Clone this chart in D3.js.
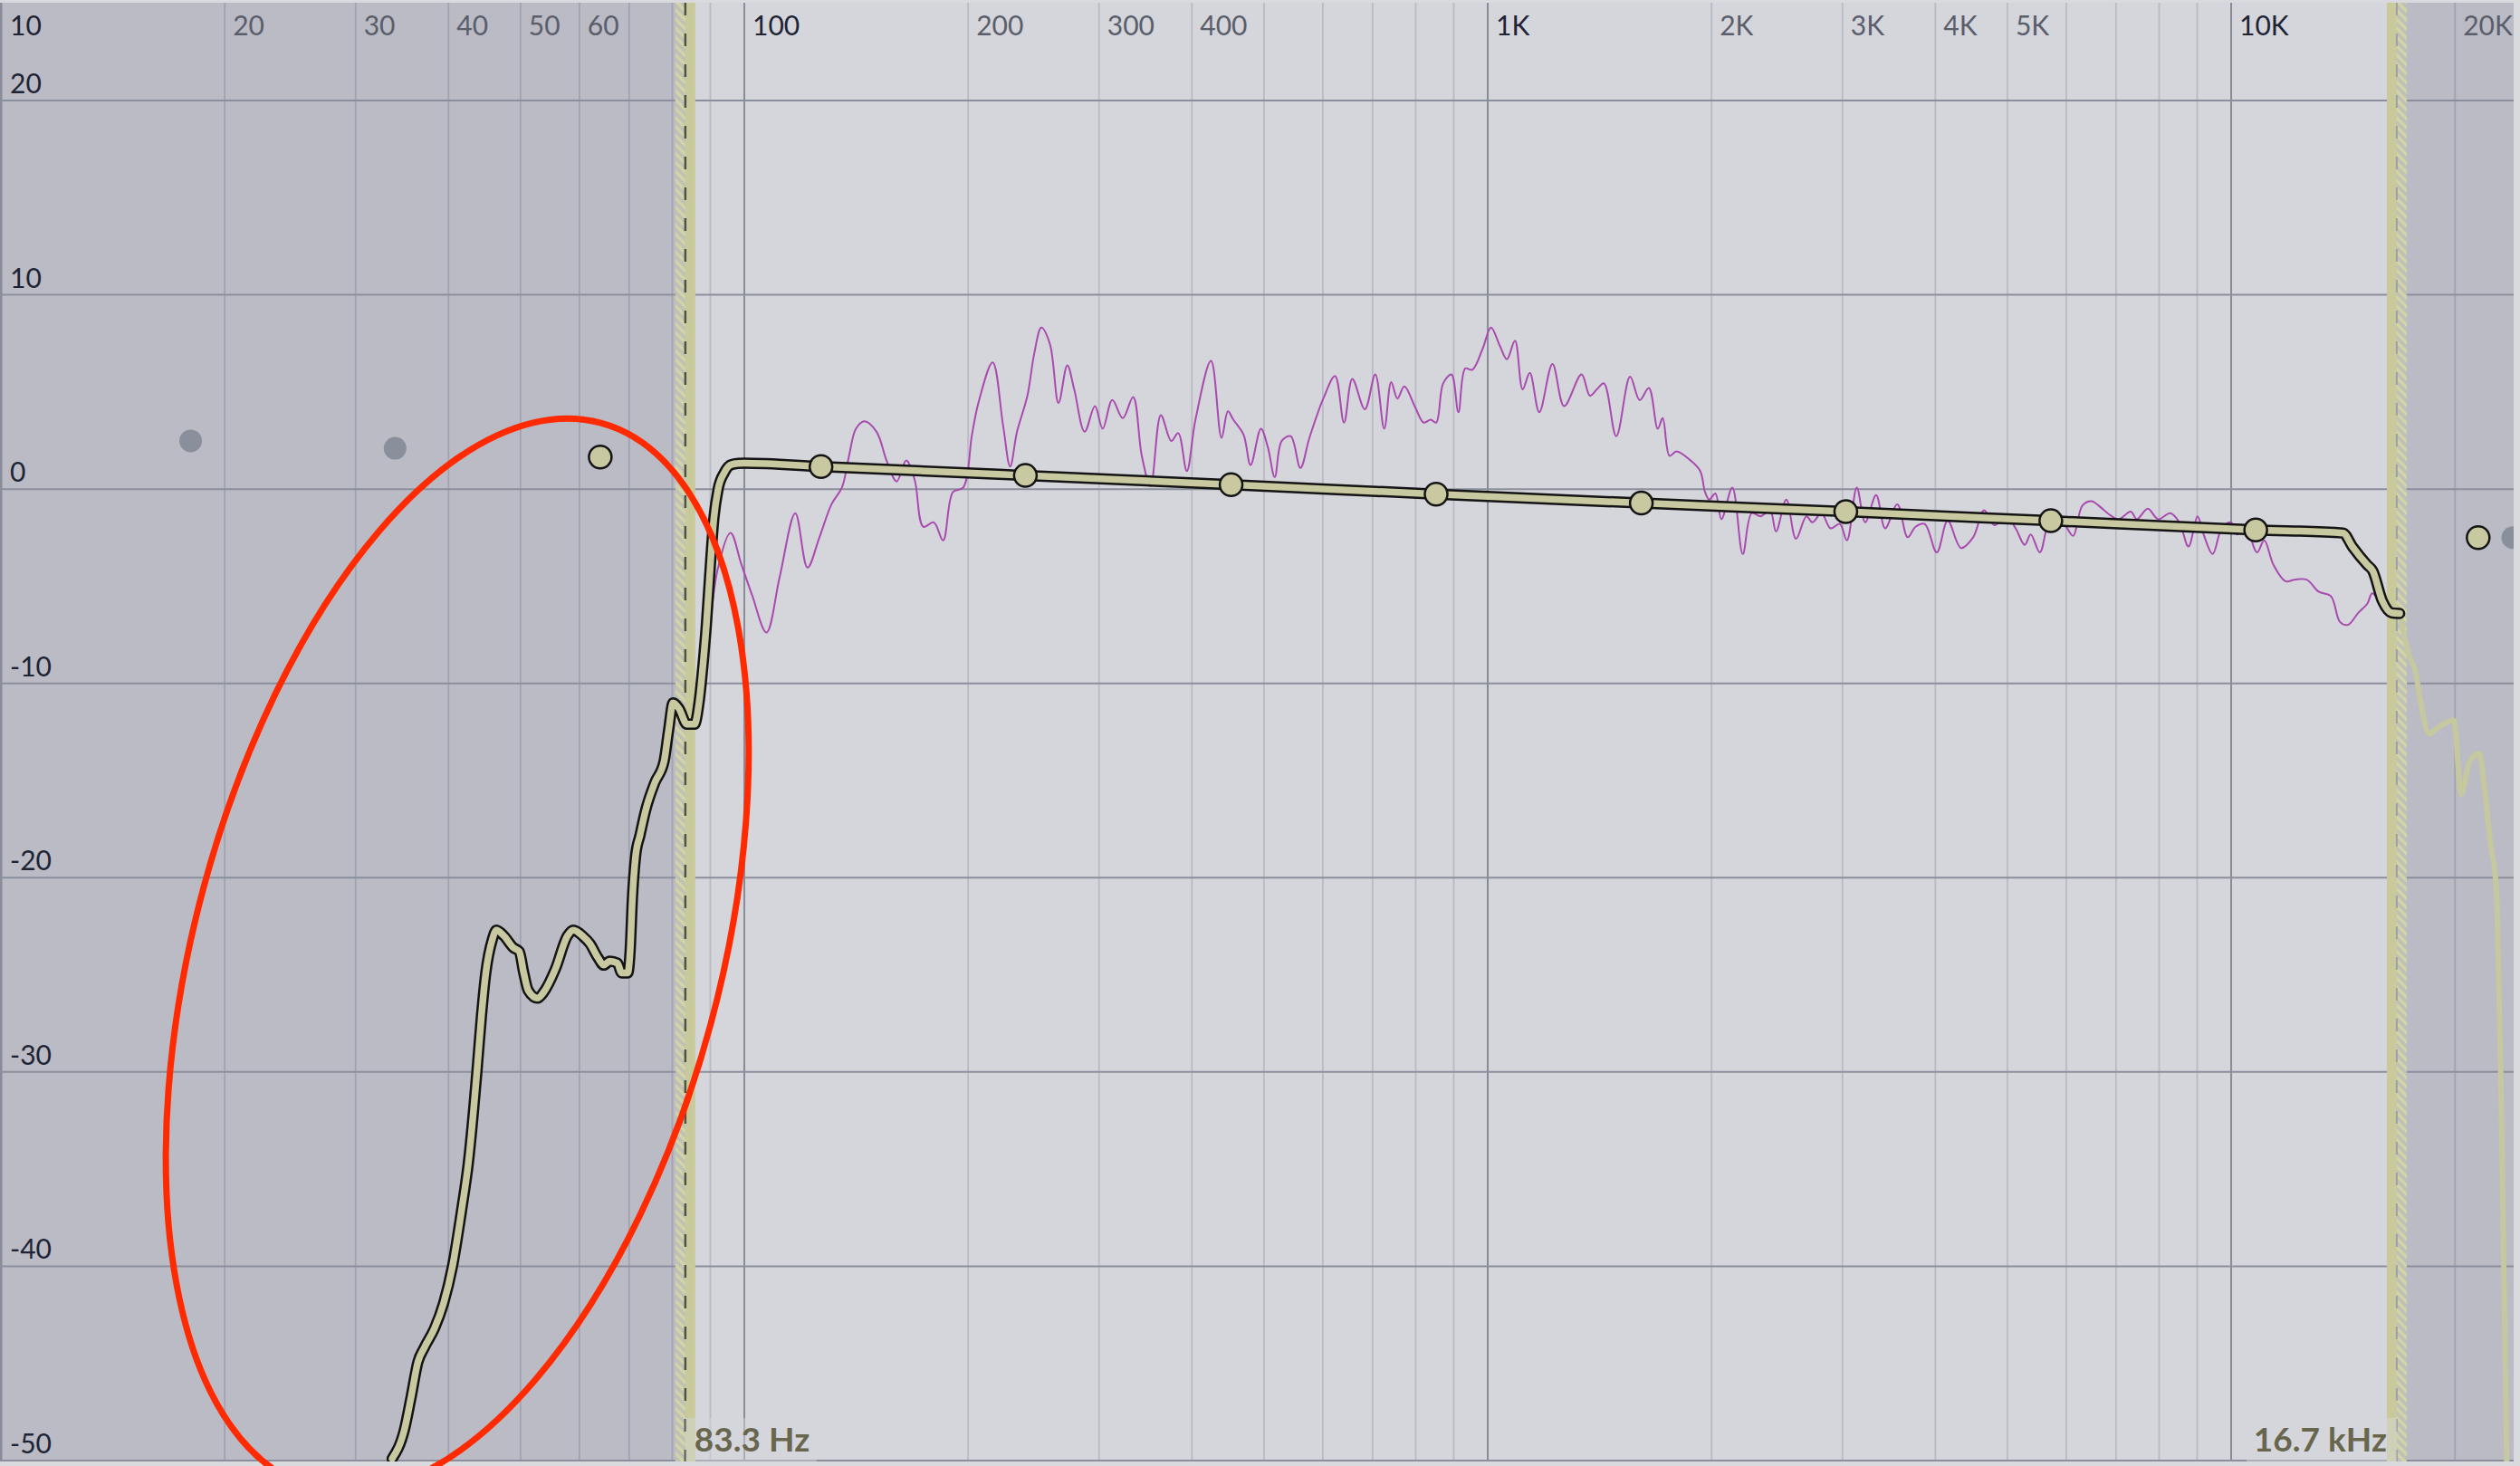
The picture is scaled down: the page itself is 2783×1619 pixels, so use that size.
<!DOCTYPE html>
<html><head><meta charset="utf-8">
<script src="https://cdn.jsdelivr.net/npm/d3@7"></script>
<style>html,body{margin:0;padding:0;background:#d9dade;overflow:hidden}svg{display:block}</style>
</head><body>
<svg id="c" width="2783" height="1619"></svg>
<script>
// ---------- data ----------
const gridFreqs = [10,20,30,40,50,60,70,80,90,100,200,300,400,500,600,700,800,900,
  1000,2000,3000,4000,5000,6000,7000,8000,9000,10000,20000];
const freqLabelValues = [10,20,30,40,50,60,100,200,300,400,1000,2000,3000,4000,5000,10000,20000];
const freqLabelTexts = ["10","20","30","40","50","60","100","200","300","400","1K","2K","3K","4K","5K","10K","20K"];
const dbTicks = [20,10,0,-10,-20,-30,-40,-50];
const dbLabelTexts = ["20","10","0","-10","-20","-30","-40","-50"];

const lowCut = 83.3, highCut = 16700;
const lowCutLabel = "83.3 Hz", highCutLabel = "16.7 kHz";

// EQ (target) curve, outlined part
const eqFreqs = [33.6,34.9,35.6,36.4,37.1,38.3,39.4,40.5,41.7,42.5,
  43.7,44.3,44.9,45.8,46.4,47.5,48.9,49.8,50.5,51.2,
  52.7,53.7,55.7,57.8,58.9,60.6,62.0,63.5,64.7,65.9,
  67.5,68.4,69.7,70.2,70.7,71.4,72.4,73.7,75.8,78.0,
  79.1,80.2,81.7,83.7,85.7,86.9,88.1,88.9,89.8,91.0,
  92.2,94.0,95.9,98.1,100,126.8,238.8,451.6,852,1609,
  3031,5720,10790,14140,14550,15240,15500,15970,16430,16850];
const eqGains = [-49.9,-48.4,-46.8,-44.9,-44.2,-43.2,-41.9,-40.0,-37.0,-34.8,
  -29.9,-27.1,-24.9,-23.2,-22.7,-23.0,-23.6,-23.8,-24.9,-25.8,
  -26.2,-25.9,-24.7,-23.0,-22.7,-23.0,-23.4,-24.1,-24.5,-24.3,
  -24.4,-24.9,-24.9,-23.8,-21.1,-18.9,-17.8,-16.5,-15.1,-14.0,
  -12.4,-11.0,-11.3,-12.1,-12.1,-11.0,-8.8,-7.0,-4.5,-1.5,
  0.0,0.85,1.25,1.32,1.33,1.16,0.70,0.23,-0.26,-0.72,
  -1.16,-1.63,-2.10,-2.26,-2.95,-3.9,-4.2,-5.75,-6.37,-6.4];

// faded continuation above the high cut
const tailFreqs = [16850,17330,17720,17970,18480,18850,19930,20390,20910,21560,21890,22300,22730,22830,23050,23260,23480];
const tailGains = [-6.4,-8.5,-9.5,-10.9,-12.6,-12.35,-11.9,-15.7,-14.05,-13.6,-15.2,-18.1,-20.5,-22.9,-30.2,-39.8,-50.3];

// measured response (magenta)
const measFreqs = [86.9,88.1,89.0,92.0,
  95.8,99.1,102.4,107.1,111.6,117.1,121.6,126.2,131.0,135.3,
  138.3,141.3,145.1,150.6,155.6,160.3,165.1,169.5,174.1,179.8,
  185.1,190.8,197.0,202.4,206.7,215.8,222.9,227.8,232.7,240.3,
  245.5,250.9,257.7,264.6,271.9,277.8,286.9,296.2,303.4,312.6,
  322.9,333.4,342.5,351.8,363.3,375.2,383.4,393.7,404.4,424.4,
  438.4,447.2,454.8,469.4,479.7,495.3,505.9,517.0,528.3,543.2,
  559.7,575.6,600.9,623.2,640.7,657.4,683.4,705.8,725.7,741.5,
  756.0,772.3,799.2,820.1,838.0,852.4,871.0,893.6,913.1,932.7,
  953.0,984.2,1010,1038,1061,1088,1114,1139,1173,1222,
  1267,1337,1372,1402,1433,1489,1554,1601,1647,1693,
  1719,1756,1794,1873,1931,1960,1986,2024,2062,2133,
  2203,2265,2330,2397,2442,2521,2598,2683,2734,2811,
  2892,2975,3042,3136,3219,3330,3424,3556,3671,3762,
  3870,4018,4156,4331,4497,4652,4803,4987,5129,5276,
  5375,5529,5687,5850,6017,6131,6307,6486,6672,6862,
  7057,7327,7466,7724,7975,8281,8516,8761,9010,9181,
  9442,9713,9989,10178,10470,10829,11078,11393,11830,12170,
  12635,13115,13618,14009,14355,14822,15243,15476,15827,16277];
const measGains = [-11.5,-10.2,-8.85,-4.19,
  -2.25,-3.88,-5.44,-7.38,-4.5,-1.24,-4.04,-2.48,-0.78,0.08,
  1.71,3.11,3.49,2.95,1.40,0.39,1.48,0.47,-1.94,-1.71,
  -2.64,-0.15,0.08,2.80,4.51,6.52,3.26,1.16,2.95,4.81,
  6.99,8.31,7.46,4.43,6.37,5.13,2.95,4.27,3.11,4.58,
  3.65,4.74,1.71,0.15,3.81,2.48,2.88,0.93,3.57,6.60,
  2.64,4.0,3.57,2.80,1.24,3.11,2.18,0.62,2.48,2.72,
  1.09,2.64,4.66,5.82,3.42,5.67,4.11,5.90,3.11,5.51,
  4.66,5.28,4.19,3.42,3.57,3.42,5.44,5.90,3.96,6.21,
  6.14,7.22,8.31,7.38,6.68,7.64,5.13,5.98,3.96,6.44,
  4.27,5.90,4.81,5.13,5.44,2.72,5.78,4.58,5.20,3.11,
  3.65,1.71,1.94,1.48,0.93,-0.15,-0.54,-0.23,-1.55,0.08,
  -3.34,-1.24,-1.40,-1.09,-2.18,-0.54,-2.56,-1.40,-1.71,-1.24,
  -2.02,-1.79,-2.64,0.08,-1.71,-0.31,-2.02,-0.78,-2.48,-1.94,
  -1.79,-3.26,-1.63,-3.03,-2.48,-1.09,-1.86,-1.40,-2.02,-2.87,
  -2.33,-3.26,-1.71,-1.40,-2.02,-2.41,-0.85,-0.62,-0.93,-1.32,
  -1.55,-1.16,-1.55,-1.01,-1.55,-1.24,-1.71,-2.95,-1.40,-2.33,
  -3.34,-2.02,-1.71,-2.33,-2.02,-3.26,-2.64,-3.88,-4.74,-4.66,
  -4.66,-5.28,-5.51,-6.84,-6.99,-6.37,-5.90,-5.36,-5.75,-6.29];

// control nodes
const nodeFreqs = [18.0,33.9,64.0,126.8,238.8,451.6,852.2,1609,3031,5720,10790,21490,23920];
const nodeGains = [2.48,2.10,1.65,1.16,0.70,0.23,-0.26,-0.72,-1.16,-1.63,-2.10,-2.50,-2.50];
const nodeActive = [false,false,true,true,true,true,true,true,true,true,true,true,false];

// red annotation ellipse (centre in data units)
const noteFreq = 41.1, noteGain = -24.0;

// ---------- drawing ----------
const W = 2783, H = 1619;
const svg = d3.select('#c');
const x = d3.scaleLog().domain([10, 24000]).range([1, 2776.2]);
const y = d3.scaleLinear().domain([-50, 20]).range([1613, 111]);
const pTop = 3, pBot = 1614, pLeft = 0, pRight = 2776;
const FONT = "Lato, 'Open Sans', sans-serif";

const defs = svg.append('defs');
defs.append('clipPath').attr('id','plot').append('rect')
  .attr('x',pLeft).attr('y',pTop).attr('width',pRight-pLeft).attr('height',pBot-pTop);
const pat = defs.append('pattern').attr('id','hatch').attr('patternUnits','userSpaceOnUse')
  .attr('width',7).attr('height',7).attr('patternTransform','rotate(-45)');
pat.append('rect').attr('width',7).attr('height',7).attr('fill','#bfc0b6');
pat.append('line').attr('x1',1.5).attr('y1',0).attr('x2',1.5).attr('y2',7)
  .attr('stroke','#d4d5a6').attr('stroke-width',3.5);

svg.append('rect').attr('width',W).attr('height',H).attr('fill','#d9dade');
const xl = x(lowCut), xh = x(highCut);
svg.append('rect').attr('x',pLeft).attr('y',pTop).attr('width',xl-pLeft).attr('height',pBot-pTop).attr('fill','#babbc5');
svg.append('rect').attr('x',xl).attr('y',pTop).attr('width',xh-xl).attr('height',pBot-pTop).attr('fill','#d5d6dc');
svg.append('rect').attr('x',xh).attr('y',pTop).attr('width',pRight-xh).attr('height',pBot-pTop).attr('fill','#babbc5');

// grid
const grid = svg.append('g');
gridFreqs.forEach(f => {
  const major = Math.abs(Math.log10(f) - Math.round(Math.log10(f))) < 1e-9;
  grid.append('line').attr('x1',x(f)).attr('x2',x(f)).attr('y1',pTop).attr('y2',pBot)
    .attr('stroke', major ? '#878b9a' : 'rgba(45,50,75,0.17)')
    .attr('stroke-width', major ? (f===10 ? 3 : 2) : 1.8);
});
dbTicks.forEach(d => {
  grid.append('line').attr('x1',pLeft).attr('x2',pRight).attr('y1',y(d)).attr('y2',y(d))
    .attr('stroke','#8b8f9d').attr('stroke-width',2);
});

// bands
svg.append('rect').attr('x',xl-11).attr('y',pTop).attr('width',11).attr('height',pBot-pTop).attr('fill','url(#hatch)');
svg.append('rect').attr('x',xl).attr('y',pTop).attr('width',11).attr('height',pBot-pTop).attr('fill','#c9ca9c');
svg.append('rect').attr('x',xh-11).attr('y',pTop).attr('width',11).attr('height',pBot-pTop).attr('fill','#c9ca9c');
svg.append('rect').attr('x',xh).attr('y',pTop).attr('width',11).attr('height',pBot-pTop).attr('fill','url(#hatch)');
svg.append('line').attr('x1',xl).attr('x2',xl).attr('y1',pTop).attr('y2',pBot)
  .attr('stroke','#4f5245').attr('stroke-width',2.5).attr('stroke-dasharray','14,20');
svg.append('line').attr('x1',xh).attr('x2',xh).attr('y1',pTop).attr('y2',pBot)
  .attr('stroke','#9ea0a6').attr('stroke-width',2).attr('stroke-dasharray','14,20');

// axis labels
const lab = svg.append('g').attr('font-family',FONT).attr('font-size',30);
freqLabelValues.forEach((f,i) => {
  const major = Math.abs(Math.log10(f) - Math.round(Math.log10(f))) < 1e-9;
  lab.append('text').attr('x', f===10 ? 11 : x(f)+9).attr('y',39)
    .attr('fill', major ? '#1e2434' : '#5a5e6b').text(freqLabelTexts[i]);
});
dbTicks.forEach((d,i) => {
  lab.append('text').attr('x',11).attr('y',y(d)-8).attr('fill','#1e2434').text(dbLabelTexts[i]);
});

// curves
const plot = svg.append('g').attr('clip-path','url(#plot)');
const line = d3.line().x(d => x(d[0])).y(d => y(d[1])).curve(d3.curveCatmullRom.alpha(0.5));
const eqLine = d3.line().x(d => x(d[0])).y(d => y(d[1])).curve(d3.curveMonotoneX);
plot.append('path').datum(d3.zip(measFreqs, measGains)).attr('d',line)
  .attr('fill','none').attr('stroke','#a84aae').attr('stroke-width',2).attr('stroke-linejoin','round');
plot.append('path').datum(d3.zip(tailFreqs, tailGains)).attr('d',eqLine)
  .attr('fill','none').attr('stroke','#c6c8a0').attr('stroke-width',6).attr('stroke-linejoin','round').attr('stroke-linecap','round');
const eqData = d3.zip(eqFreqs, eqGains);
plot.append('path').datum(eqData).attr('d',eqLine)
  .attr('fill','none').attr('stroke','#141414').attr('stroke-width',12.5).attr('stroke-linejoin','round').attr('stroke-linecap','round');
plot.append('path').datum(eqData).attr('d',eqLine)
  .attr('fill','none').attr('stroke','#c8c9a0').attr('stroke-width',7.5).attr('stroke-linejoin','round').attr('stroke-linecap','round');

// nodes
nodeFreqs.forEach((f,i) => {
  const c = plot.append('circle').attr('cx',x(f)).attr('cy',y(nodeGains[i])).attr('r',12.5);
  if (nodeActive[i]) c.attr('fill','#c8c9a0').attr('stroke','#141414').attr('stroke-width',2.5);
  else c.attr('fill','#8a8f9c');
});

// cutoff labels
svg.append('rect').attr('x',xl).attr('y',1566).attr('width',145).attr('height',pBot-1566)
  .attr('fill','#d5d6dc').attr('opacity',0.45);
svg.append('rect').attr('x',xh-166).attr('y',1566).attr('width',166).attr('height',pBot-1566)
  .attr('fill','#d5d6dc').attr('opacity',0.45);
svg.append('text').attr('x',xl+10).attr('y',1603).attr('font-family',FONT).attr('font-weight',700)
  .attr('font-size',37).attr('fill','#68674e').text(lowCutLabel);
svg.append('text').attr('x',xh-11).attr('y',1603).attr('text-anchor','end').attr('font-family',FONT).attr('font-weight',700)
  .attr('font-size',37).attr('fill','#68674e').text(highCutLabel);

// red annotation
svg.append('ellipse').attr('cx',0).attr('cy',0).attr('rx',609).attr('ry',290)
  .attr('transform',`translate(${x(noteFreq)},${y(noteGain)}) rotate(-74.9)`)
  .attr('fill','none').attr('stroke','#ff2a00').attr('stroke-width',7);
</script>
</body></html>
